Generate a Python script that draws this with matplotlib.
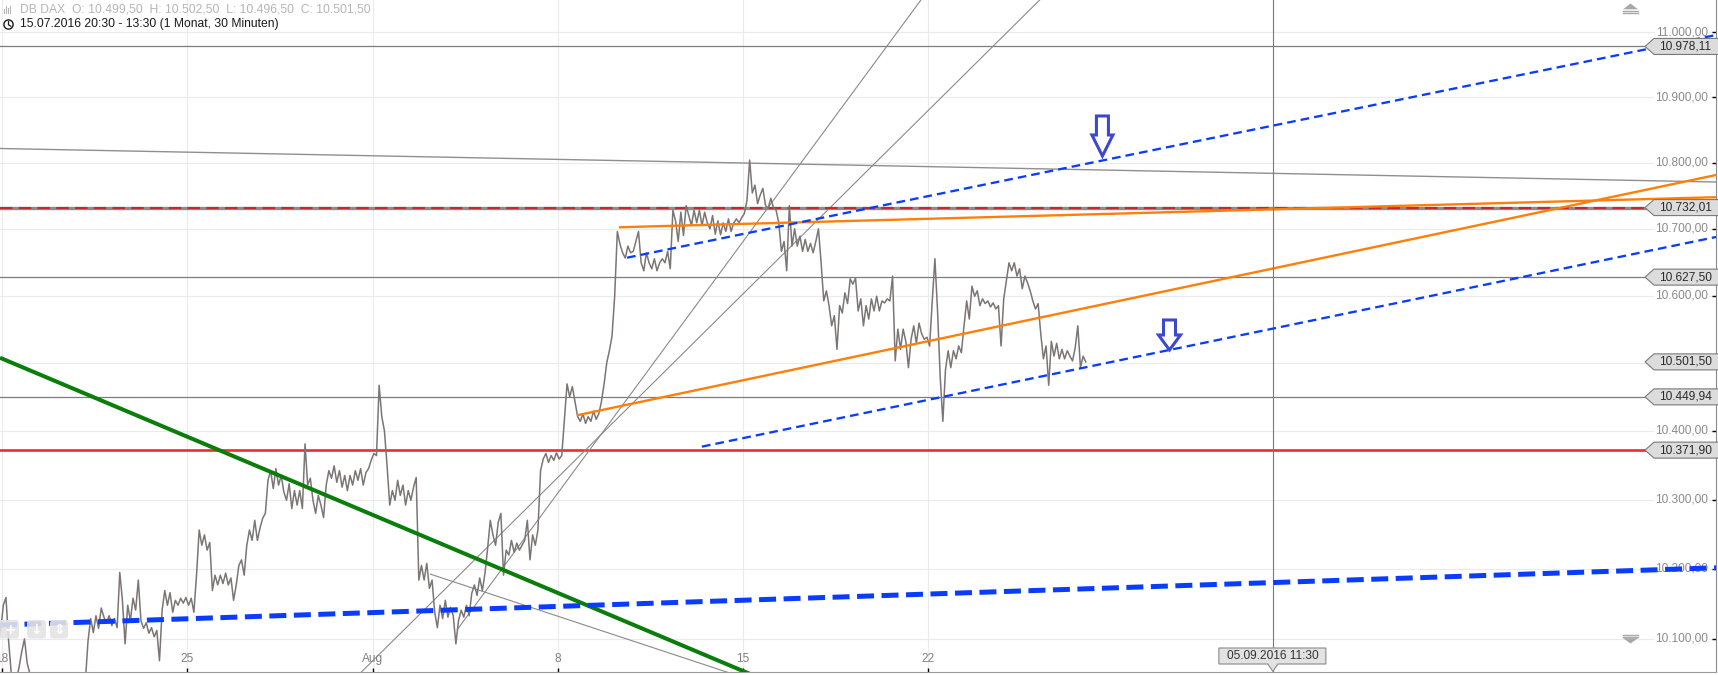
import numpy as np
import matplotlib
matplotlib.use('Agg')
import matplotlib.pyplot as plt
import matplotlib.transforms as mtransforms
from matplotlib.patches import Polygon, Circle, FancyBboxPatch
from matplotlib.lines import Line2D
from matplotlib.ticker import FixedLocator, NullLocator, NullFormatter

plt.rcParams['font.family'] = ['Liberation Sans', 'DejaVu Sans']

W, H, DPI = 1718, 675, 100

# ---------------- data ----------------
header_line1 = "DB DAX  O: 10.499,50  H: 10.502,50  L: 10.496,50  C: 10.501,50"
header_line2 = "15.07.2016 20:30 - 13:30 (1 Monat, 30 Minuten)"

# x axis in trading days, 0 = Monday 18.07.2016
xtick_days = [0, 5, 10, 15, 20, 25]
xtick_labels = ['18', '25', 'Aug', '8', '15', '22']

ytick_values = [10100, 10200, 10300, 10400, 10500, 10600, 10700, 10800, 10900, 11000]
# the 10.500,00 label is hidden behind the last-price tag in the reference
ytick_labelled = [10100, 10200, 10300, 10400, 10600, 10700, 10800, 10900, 11000]

# hourly prices from 15.07.2016 20:30
series_start_day = -0.107
samples_per_day = 14
price = [
    10097, 10112, 10148, 10159, 10097, 10051, 10033, 10043, 10061, 10083,
    10100, 10066, 10051, 10037, 10022, 10014, 10005, 9995, 10010, 9990,
    10000, 9985, 9995, 10010, 10000, 10020, 10005, 10015, 10000, 10030,
    10020, 10040, 10030, 10040, 10097, 10129, 10109, 10133, 10115, 10144,
    10131, 10123, 10133, 10119, 10129, 10116, 10195, 10155, 10093, 10148,
    10126, 10158, 10141, 10184, 10126, 10115, 10123, 10108, 10116, 10103,
    10112, 10069, 10141, 10169, 10148, 10166, 10138, 10155, 10148, 10158,
    10151, 10159, 10148, 10158, 10138, 10191, 10256, 10234, 10249, 10227,
    10238, 10169, 10191, 10177, 10191, 10179, 10194, 10177, 10187, 10155,
    10177, 10205, 10213, 10191, 10234, 10256, 10241, 10270, 10241, 10259,
    10273, 10280, 10328, 10342, 10316, 10345, 10321, 10335, 10311, 10299,
    10323, 10287, 10313, 10292, 10313, 10287, 10381, 10321, 10331, 10299,
    10280, 10306, 10292, 10274, 10321, 10342, 10331, 10349, 10325, 10342,
    10318, 10335, 10313, 10335, 10321, 10342, 10328, 10345, 10321, 10339,
    10345, 10357, 10367, 10364, 10467, 10421, 10400, 10349, 10292, 10313,
    10299, 10328, 10306, 10321, 10292, 10313, 10299, 10318, 10332, 10184,
    10205, 10184, 10208, 10172, 10184, 10138, 10116, 10148, 10129, 10155,
    10131, 10145, 10133, 10093, 10126, 10141, 10131, 10148, 10133, 10165,
    10177, 10162, 10187, 10169, 10194, 10230, 10270, 10249, 10234, 10267,
    10280, 10191, 10227, 10220, 10241, 10224, 10237, 10227, 10234, 10241,
    10270, 10213, 10249, 10234, 10256, 10342, 10359, 10367, 10354, 10364,
    10357, 10368, 10359, 10364, 10417, 10469, 10450, 10465, 10443, 10421,
    10414, 10425, 10411, 10421, 10414, 10429, 10417, 10425, 10443, 10469,
    10500, 10518, 10540, 10599, 10696, 10677, 10664, 10656, 10674, 10664,
    10666, 10681, 10696, 10649, 10637, 10664, 10649, 10640, 10655, 10637,
    10649, 10655, 10649, 10666, 10640, 10728, 10712, 10681, 10725, 10690,
    10735, 10720, 10705, 10728, 10709, 10728, 10705, 10725, 10709, 10700,
    10720, 10692, 10712, 10691, 10709, 10696, 10715, 10696, 10709, 10715,
    10709, 10717, 10723, 10743, 10804, 10754, 10766, 10738, 10751, 10761,
    10735, 10731, 10746, 10732, 10728, 10709, 10666, 10681, 10637, 10735,
    10674, 10700, 10674, 10689, 10666, 10684, 10666, 10678, 10664, 10681,
    10700, 10649, 10592, 10607, 10585, 10555, 10570, 10520, 10585, 10574,
    10604, 10588, 10625, 10617, 10626, 10577, 10595, 10555, 10585, 10565,
    10595, 10577, 10599, 10577, 10592, 10589, 10595, 10592, 10629, 10503,
    10550, 10520, 10550, 10532, 10493, 10535, 10555, 10529, 10559, 10543,
    10535, 10538, 10525, 10592, 10655, 10577, 10479, 10414, 10490, 10518,
    10493, 10518, 10506, 10525, 10515, 10555, 10592, 10565, 10614, 10599,
    10607, 10585, 10595, 10588, 10592, 10583, 10589, 10580, 10585, 10525,
    10595, 10622, 10649, 10637, 10649, 10629, 10640, 10610, 10629, 10619,
    10607, 10592, 10580, 10588, 10543, 10506, 10525, 10467, 10532, 10510,
    10529, 10506, 10520, 10506, 10518, 10510, 10503, 10522, 10555, 10493,
    10510, 10501.5,
]

level_grey = [10978.11, 10627.50, 10449.94]
level_red = 10371.90
level_dashed = 10732.01
last_price = 10501.50

# trendlines: (day0, price0, day1, price1)
green_line = (-0.054, 10507.6, 21.54, 10020.5)
grey_fan_low = (11.55, 10192.7, 20.46, 10037.5)
grey_fan_1 = (12.28, 10112.7, 25.00, 11065.7)
grey_fan_2 = (9.39, 10037.0, 28.28, 11065.7)
grey_long = (-0.054, 10821.6, 46.26, 10770.7)
orange_1 = (16.65, 10702.3, 46.26, 10747.7)
orange_2 = (15.52, 10422.9, 46.26, 10781.3)
blue_1 = (16.87, 10656.6, 46.26, 10995.8)
blue_2 = (18.89, 10377.0, 46.26, 10687.7)
blue_thick = (-0.054, 10119.8, 46.26, 10201.6)

cursor_day = 34.30
cursor_label = "05.09.2016 11:30"
arrow_marks = [(29.70, 10810.2, 'big'), (31.51, 10519.1, 'small')]

# ---------------- figure ----------------
fig = plt.figure(figsize=(W / DPI, H / DPI), dpi=DPI)
fig.patch.set_facecolor('white')
ax = fig.add_axes([0, 3 / H, 1716 / W, 672 / H])
ax.set_facecolor('white')
ax.set_yscale('log')
ax.set_ylim(10053.1, 11050.1)
ax.set_xlim(-0.054, 46.26)

ax.yaxis.set_major_locator(FixedLocator(ytick_values))
ax.yaxis.set_minor_locator(NullLocator())
ax.yaxis.set_major_formatter(NullFormatter())
ax.yaxis.set_minor_formatter(NullFormatter())
ax.xaxis.set_major_locator(FixedLocator(xtick_days))
ax.xaxis.set_major_formatter(NullFormatter())
ax.tick_params(axis='y', which='both', left=False, right=True, direction='in',
               length=3, width=1, color='black', labelleft=False, labelright=False)
ax.tick_params(axis='x', which='both', bottom=True, top=False, direction='in',
               length=3, width=1, color='black', labelbottom=False)
ax.grid(True, color='#ebebeb', lw=0.8)
ax.set_axisbelow(True)
for s in ['top', 'left']:
    ax.spines[s].set_visible(False)
ax.spines['bottom'].set_color('#9a9a9a')
ax.spines['right'].set_color('#8a8a8a')

blend_ay = mtransforms.blended_transform_factory(ax.transAxes, ax.transData)
blend_xa = mtransforms.blended_transform_factory(ax.transData, ax.transAxes)


def de(v):
    s = f"{v:,.2f}"
    return s.replace(',', 'X').replace('.', ',').replace('X', '.')


# y labels inside plot at right
for v in ytick_labelled:
    ax.text(1708 / 1716, v, de(v), transform=blend_ay, ha='right', va='center',
            fontsize=8.6, color='#8a8a8a', zorder=1.6,
            bbox=dict(boxstyle='square,pad=0.12', fc='white', ec='none'))

# x labels inside plot at bottom (the first one, "18", is cut by the left edge)
for d, lbl in zip(xtick_days, xtick_labels):
    ax.text(d, 13 / 672, lbl, transform=blend_xa, ha='center', va='center',
            fontsize=8.6, color='#808080', zorder=1.6)

# horizontal levels
for lv in level_grey:
    ax.axhline(lv, color='#7d7d7d', lw=0.9, zorder=2)
ax.axhline(level_red, color='#f02c2c', lw=1.9, zorder=2)
ax.axhline(level_dashed, color='#8c8c8c', lw=2.4, zorder=2)
ax.axhline(level_dashed, color='#c42a2a', lw=1.5, dashes=(6, 3), zorder=2.1)


def seg(t, **kw):
    ax.plot([t[0], t[2]], [t[1], t[3]], solid_capstyle='butt', **kw)


seg(grey_long, color='#8f8f8f', lw=1.0, zorder=2)
seg(grey_fan_low, color='#8a8a8a', lw=0.8, zorder=2)
seg(grey_fan_1, color='#8a8a8a', lw=0.8, zorder=2)
seg(grey_fan_2, color='#8a8a8a', lw=0.8, zorder=2)

# price series
days = series_start_day + np.arange(len(price)) / samples_per_day
ax.plot(days, price, color='#7b7575', lw=1.1, zorder=2.5)

seg(green_line, color='#0b7d0b', lw=2.9, zorder=3)
seg(orange_1, color='#ff7f0a', lw=1.7, zorder=3)
seg(orange_2, color='#ff7f0a', lw=1.7, zorder=3)
seg(blue_1, color='#0a3cff', lw=1.65, dashes=(3.8, 2.2), zorder=3.2)
seg(blue_2, color='#0a3cff', lw=1.65, dashes=(3.8, 2.2), zorder=3.2)
seg(blue_thick, color='#0a3cff', lw=3.6, dashes=(3.4, 1.5), zorder=3.2)

# cursor line
ax.axvline(cursor_day, color='#7a7a7a', lw=0.8, zorder=3)

# arrows
arrow_shapes = {
    'big': [(0, 0), (-10.5, 21), (-6, 21), (-6, 40), (6, 40), (6, 21), (10.5, 21)],
    'small': [(0, 0), (-11, 15), (-6, 15), (-6, 30), (6, 30), (6, 15), (11, 15)],
}
for d, p, kind in arrow_marks:
    tr = fig.dpi_scale_trans + mtransforms.ScaledTranslation(d, p, ax.transData)
    verts = [(x / DPI, y / DPI) for x, y in arrow_shapes[kind]]
    ax.add_patch(Polygon(verts, closed=True, transform=tr, fc='white', ec='#3c48d0',
                         lw=2.2, joinstyle='miter', zorder=6, clip_on=False))


# price tags on the right
def tag(val, text):
    tr = fig.dpi_scale_trans + mtransforms.ScaledTranslation(1.0, val, blend_ay)
    verts = [(-71, 0), (-62, 8), (4, 8), (4, -8), (-62, -8)]
    ax.add_patch(Polygon([(x / DPI, y / DPI) for x, y in verts], closed=True,
                         transform=tr, fc='#dcdcdc', ec='#7a7a7a', lw=0.8,
                         zorder=20, clip_on=False))
    ax.text(-31 / DPI, 0, text, transform=tr, ha='center', va='center',
            fontsize=8.6, color='#2a2a2a', zorder=21)


for lv in level_grey:
    tag(lv, de(lv))
tag(level_red, de(level_red))
tag(level_dashed, de(level_dashed))
tag(last_price, de(last_price))

# cursor date box
trc = fig.dpi_scale_trans + mtransforms.ScaledTranslation(cursor_day, 0, blend_xa)
cverts = [(-54, 8), (-5, 8), (0, 0.5), (5, 8), (53, 8), (53, 24), (-54, 24)]
ax.add_patch(Polygon([(x / DPI, y / DPI) for x, y in cverts], closed=True, transform=trc,
                     fc='#e2e2e2', ec='#8a8a8a', lw=0.8, zorder=20, clip_on=False))
ax.text(0, 16 / DPI, cursor_label, transform=trc, ha='center', va='center',
        fontsize=8.6, color='#333333', zorder=21)


# ---------------- figure-level decorations (pixel helpers) ----------------
def fpt(x, y):
    return (x / DPI, (H - y) / DPI)


def fig_poly(pts, **kw):
    fig.add_artist(Polygon([fpt(x, y) for x, y in pts], closed=True,
                           transform=fig.dpi_scale_trans, **kw))


def fig_line(pts, **kw):
    xs, ys = zip(*[fpt(x, y) for x, y in pts])
    fig.add_artist(Line2D(xs, ys, transform=fig.dpi_scale_trans, **kw))


# header
fig.text(20.5 / W, 1 - 9.5 / H, header_line1, ha='left', va='center',
         fontsize=8.7, color='#b5b5b5')
fig.text(20 / W, 1 - 24.5 / H, header_line2, ha='left', va='center',
         fontsize=8.7, color='#1a1a1a')
for x0, h in [(4, 4), (6, 7), (8, 5), (10, 7)]:
    fig_line([(x0, 13), (x0, 13 - h)], color='#b5b5b5', lw=0.8)
fig.add_artist(Circle(fpt(8.5, 24.5), 4.6 / DPI, transform=fig.dpi_scale_trans,
                      fc='none', ec='#1a1a1a', lw=1.0))
fig_line([(8.5, 21.5), (8.5, 24.8), (10.8, 26.2)], color='#1a1a1a', lw=0.9)

# scroll icons on the right
fig_poly([(1630.5, 3.5), (1623, 9.3), (1638, 9.3)], fc='#a8a8a8', ec='none')
fig_line([(1623, 10.8), (1638, 10.8)], color='#a8a8a8', lw=1.0)
fig_line([(1623, 12.8), (1638, 12.8)], color='#a8a8a8', lw=1.0)
fig_line([(1623, 634.5), (1638, 634.5)], color='#a8a8a8', lw=1.0)
fig_line([(1623, 636.5), (1638, 636.5)], color='#a8a8a8', lw=1.0)
fig_poly([(1623, 638.2), (1638, 638.2), (1630.5, 643.5)], fc='#a8a8a8', ec='none')

# buttons bottom-left
for x0, x1, sym in [(-3, 19, '+'), (27, 46, '↓'), (50, 68, '⇕')]:
    bx, by = fpt(x0, 638.5)
    fig.add_artist(FancyBboxPatch((bx, by), (x1 - x0) / DPI, 18.5 / DPI,
                                  boxstyle='round,pad=0,rounding_size=0.035',
                                  transform=fig.dpi_scale_trans,
                                  fc='#e4e4e4', ec='none', alpha=0.9))
    fig.text(((x0 + x1) / 2 + (2 if x0 < 0 else 0)) / W, 1 - 629.5 / H, sym,
             ha='center', va='center', fontsize=10, fontweight='bold',
             color='white', family=['DejaVu Sans'])

fig.savefig('out.png', dpi=DPI, facecolor='white')
